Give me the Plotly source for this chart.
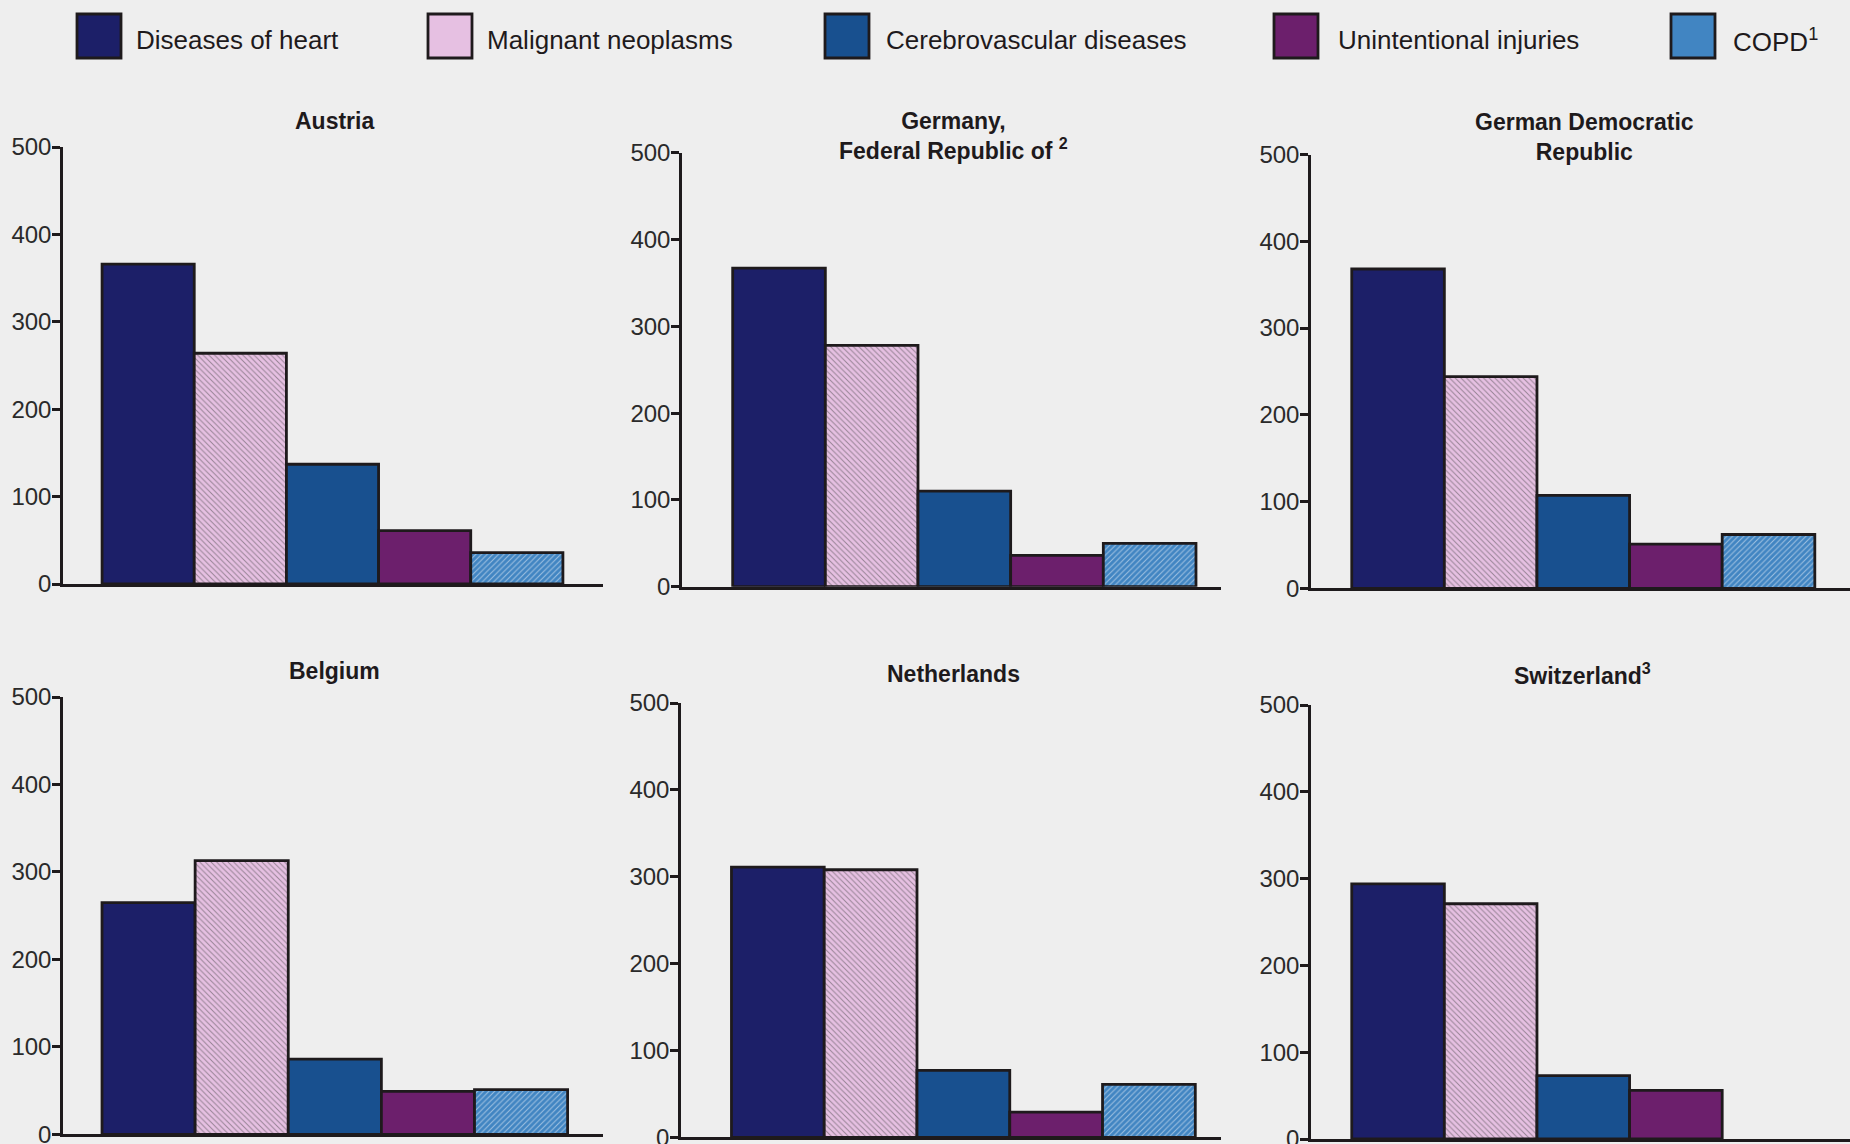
import plotly.graph_objects as go

# ---------------- data ----------------
CAUSES = ["Diseases of heart", "Malignant neoplasms", "Cerebrovascular diseases",
          "Unintentional injuries", "COPD"]
LEGEND_LABELS = ["Diseases of heart", "Malignant neoplasms", "Cerebrovascular diseases",
                 "Unintentional injuries", "COPD<sup>1</sup>"]
COUNTRIES = ["Austria", "Germany,<br>Federal Republic of <sup>2</sup>",
             "German Democratic<br>Republic", "Belgium", "Netherlands", "Switzerland<sup>3</sup>"]

austria = [366, 264, 137, 61, 36]
germany_fr = [367, 278, 110, 36, 50]
german_dr = [368, 244, 107, 51, 62]
belgium = [265, 313, 86, 49, 51]
netherlands = [311, 308, 77, 29, 61]
switzerland = [294, 271, 73, 56, None]

Y_TICKS = [0, 100, 200, 300, 400, 500]

# ---------------- styling ----------------
W, H = 1850, 1144
BG = "#eeeeee"
INK = "#1e1a1c"
COLORS = ["#1c1f68", "#e6c0e2", "#18508f", "#6c1f6c", "#4185c2"]
PAT_SHAPES = ["", "\\", "", "", "/"]
PAT_FG = ["#1c1f68", "#d8aad4", "#18508f", "#6c1f6c", "#3574b4"]
FONT = "Liberation Sans, Arial, sans-serif"

# panel geometry in pixels: (x_left, x_right, y_zero, y_500, xrange)
panels = [
    (austria,     (63, 603),   (584, 147),     (-0.924, 4.935)),
    (germany_fr,  (682, 1221), (586.7, 152.7), (-1.047, 4.77)),
    (german_dr,   (1311, 1850), (588.3, 154.5), (-0.94, 4.88)),
    (belgium,     (63, 603),   (1134.3, 697),  (-0.919, 4.88)),
    (netherlands, (681, 1221), (1137.3, 703),  (-1.044, 4.777)),
    (switzerland, (1311, 1850), (1139, 705),    (-0.94, 4.88)),
]
title_pos = [(334, 121), (954, 136), (1584, 137), (334, 671), (954, 674), (1582, 674)]

fig = go.Figure()
layout = dict(template="none", width=W, height=H,
              margin=dict(l=0, r=0, t=0, b=0, pad=0), autosize=False,
              paper_bgcolor=BG, plot_bgcolor=BG, showlegend=False,
              barmode="overlay", font=dict(family=FONT, color=INK))
annotations = []
shapes = []

for i, (vals, (xl, xr), (y0, y5), xr_rng) in enumerate(panels):
    n = "" if i == 0 else str(i + 1)
    fig.add_trace(go.Bar(
        x=list(range(len(CAUSES))), y=vals, width=1,
        customdata=CAUSES, hovertemplate="%{customdata}: %{y}<extra></extra>",
        marker=dict(color=COLORS, opacity=1, line=dict(color=INK, width=2.8),
                    pattern=dict(shape=PAT_SHAPES, fgcolor=PAT_FG, fillmode="overlay",
                                 size=4, solidity=0.25)),
        xaxis="x" + n, yaxis="y" + n, cliponaxis=False))
    layout["xaxis" + n] = dict(domain=[xl / W, xr / W], range=list(xr_rng),
                               showgrid=False, zeroline=False, showticklabels=False,
                               ticks="", showline=True, linecolor=INK, linewidth=2.5,
                               anchor="y" + n, fixedrange=True, automargin=False)
    layout["yaxis" + n] = dict(domain=[1 - y0 / H, 1 - y5 / H], range=[0, 500],
                               tickvals=Y_TICKS, showgrid=False, zeroline=False,
                               showline=True, linecolor=INK, linewidth=2.5,
                               ticks="outside", ticklen=8, tickwidth=2.5, tickcolor=INK,
                               ticklabelstandoff=-4, ticklabeloverflow="allow",
                               automargin=False,
                               tickfont=dict(size=24, color="#2a2a2a", family=FONT),
                               anchor="x" + n, fixedrange=True)
    tx, ty = title_pos[i]
    annotations.append(dict(text="<b>" + COUNTRIES[i] + "</b>", x=tx / W, y=1 - ty / H,
                            xref="paper", yref="paper", xanchor="center", yanchor="middle",
                            showarrow=False, font=dict(size=23, color=INK, family=FONT)))

# legend (swatches + labels)
sw_left = [77, 428, 825, 1274, 1671]
txt_left = [134, 485, 884, 1336, 1731]
for k, lab in enumerate(LEGEND_LABELS):
    shapes.append(dict(type="rect", xref="paper", yref="paper",
                       x0=sw_left[k] / W, x1=(sw_left[k] + 44) / W,
                       y0=1 - 58 / H, y1=1 - 14 / H,
                       fillcolor=COLORS[k], line=dict(color=INK, width=2.8)))
    annotations.append(dict(text=lab, x=txt_left[k] / W, y=1 - 40 / H,
                            xref="paper", yref="paper", xanchor="left", yanchor="middle",
                            showarrow=False, font=dict(size=26, color=INK, family=FONT)))

layout["annotations"] = annotations
layout["shapes"] = shapes
fig.update_layout(**layout)
fig.write_html("out.html", config={"displayModeBar": False},
               post_script="document.body.style.margin='0';"
                           "document.body.style.background='#eeeeee';"
                           "document.body.style.overflow='hidden';")
